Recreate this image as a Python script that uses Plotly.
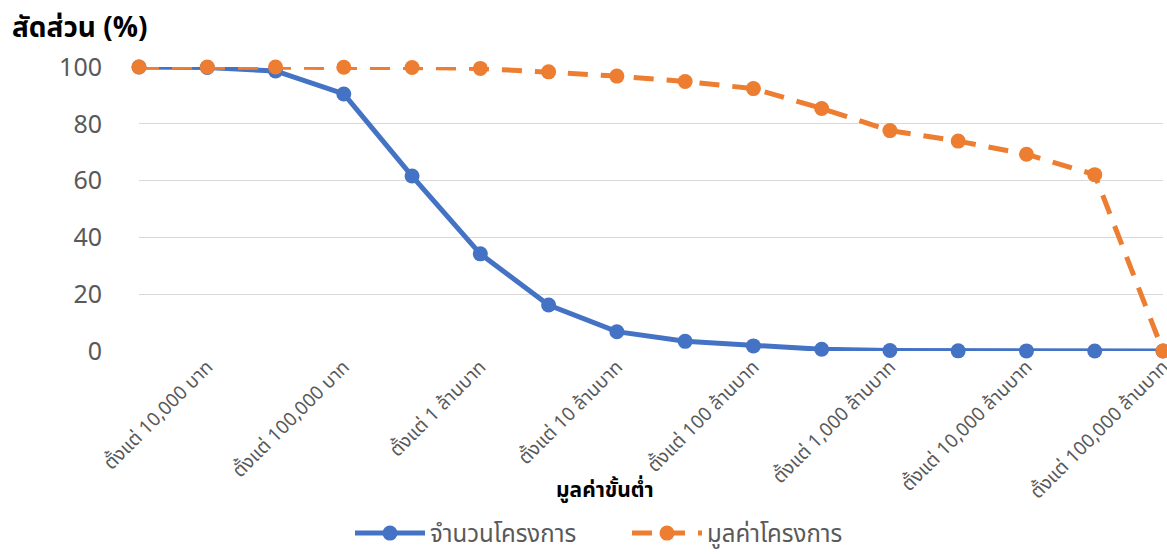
import plotly.graph_objects as go

categories = [
    "ตั้งแต่ 5,000 บาท", "ตั้งแต่ 10,000 บาท", "ตั้งแต่ 50,000 บาท", "ตั้งแต่ 100,000 บาท",
    "ตั้งแต่ 500,000 บาท", "ตั้งแต่ 1 ล้านบาท", "ตั้งแต่ 5 ล้านบาท", "ตั้งแต่ 10 ล้านบาท",
    "ตั้งแต่ 50 ล้านบาท", "ตั้งแต่ 100 ล้านบาท", "ตั้งแต่ 500 ล้านบาท", "ตั้งแต่ 1,000 ล้านบาท",
    "ตั้งแต่ 5,000 ล้านบาท", "ตั้งแต่ 10,000 ล้านบาท", "ตั้งแต่ 50,000 ล้านบาท", "ตั้งแต่ 100,000 ล้านบาท",
]
count_share = [100, 99.8, 98.6, 90.5, 61.6, 34.2, 16.2, 6.8, 3.4, 1.8, 0.6, 0.15, 0.06, 0.03, 0.01, 0]
value_share = [100, 100, 100, 99.9, 99.8, 99.5, 98.3, 96.8, 94.9, 92.4, 85.4, 77.6, 73.9, 69.3, 62.1, 0]
shown_labels = categories[1::2]

series_names = ["จำนวนโครงการ", "มูลค่าโครงการ"]
y_title = "สัดส่วน (%)"
x_title = "มูลค่าขั้นต่ำ"

FONT = "Leelawadee UI, Tahoma, Noto Sans Thai, Noto Sans, sans-serif"
GREY = "#595959"

fig = go.Figure()
fig.add_trace(go.Scatter(
    x=categories, y=count_share, name=series_names[0], mode="lines+markers",
    line=dict(color="#4472C4", width=5),
    marker=dict(color="#4472C4", size=15), cliponaxis=False,
))
fig.add_trace(go.Scatter(
    x=categories, y=value_share, name=series_names[1], mode="lines+markers",
    line=dict(color="#ED7D31", width=5, dash="20px,13px"),
    marker=dict(color="#ED7D31", size=15), cliponaxis=False,
))

fig.update_layout(
    width=1167, height=554,
    margin=dict(l=139, r=4, t=67, b=203, autoexpand=False),
    paper_bgcolor="white", plot_bgcolor="white",
    font=dict(family=FONT, color=GREY),
    showlegend=True,
    legend=dict(orientation="h", x=(350-139)/1024, xanchor="left", y=(351-511)/284, yanchor="top",
                font=dict(size=24, color=GREY), itemwidth=70,
                entrywidth=192, entrywidthmode="pixels"),
    xaxis=dict(
        type="category", range=[0, 15], showgrid=False, zeroline=False,
        tickmode="array", tickvals=shown_labels, ticktext=shown_labels,
        tickangle=-45, tickfont=dict(size=19, color=GREY), ticks="",
        showline=False, automargin=False,
    ),
    yaxis=dict(
        range=[0, 100], dtick=20, showgrid=True, gridcolor="#D9D9D9", gridwidth=1.3,
        zeroline=False, tickfont=dict(size=25, color=GREY), ticklabelstandoff=36,
        automargin=False,
    ),
    annotations=[
        dict(text=y_title, xref="paper", yref="paper", x=-139/1024 + 10/1024, y=(351-28)/284,
             xanchor="left", yanchor="middle", showarrow=False,
             font=dict(size=28, color="black", family=FONT, weight="bold")),
        dict(text=x_title, xref="paper", yref="paper", x=(605-139)/1024, y=(351-490)/284,
             xanchor="center", yanchor="middle", showarrow=False,
             font=dict(size=21, color="black", family=FONT, weight="bold")),
    ],
)

fig.write_html("out.html", config={"displayModeBar": False},
               post_script="document.body.style.margin='0';document.body.style.overflow='hidden';")
